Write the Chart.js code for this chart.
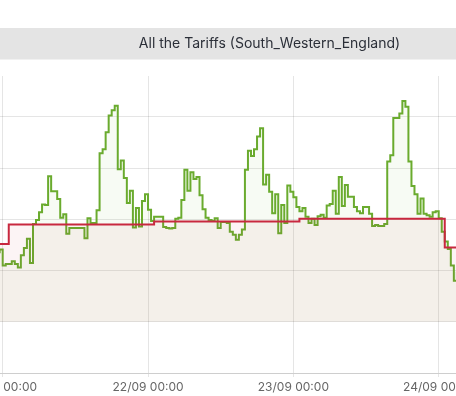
<!DOCTYPE html>
<html>
<head>
<meta charset="utf-8">
<script src="https://cdn.jsdelivr.net/npm/chart.js@4.4.1/dist/chart.umd.min.js"></script>
<style>
  html, body { margin: 0; padding: 0; background: #fff; overflow: hidden; }
  #wrap { position: relative; width: 456px; height: 396px; overflow: hidden; }
  #grafico { position: absolute; left: -60px; top: 0; }
</style>
</head>
<body>
<div id="wrap"><canvas id="grafico" width="659" height="396"></canvas></div>
<script>
// hours are counted from 21/09 00:00; agile prices are half-hourly slots
const firstSlotHour = -2;
const agilePrices = [
  13.0, 14.5, 13.6, 14.1,
  11.0, 11.3, 11.3, 11.8, 11.3, 10.6, 13.0, 14.4, 16.2, 11.5,
  19.1, 19.9, 21.4, 22.9, 22.8, 28.4, 25.5, 25.5, 24.0, 20.3,
  21.0, 17.2, 18.3, 18.3, 18.3, 18.3, 18.3, 16.3, 20.2, 19.3,
  19.3, 21.8, 32.9, 33.7, 37.0, 40.3, 41.3, 42.2, 29.8, 31.5,
  28.1, 23.2, 25.6, 18.4, 22.2, 18.6, 23.6, 24.9, 21.9, 19.7,
  20.5, 20.5, 20.5, 18.5, 18.3, 18.2, 18.3, 20.1, 20.3, 23.8,
  29.7, 25.6, 29.2, 27.9, 28.3, 24.7, 22.0, 20.3, 19.9, 19.7,
  20.2, 18.3, 19.5, 19.5, 19.3, 17.6, 17.0, 16.0, 17.0, 18.0,
  29.7, 33.4, 32.4, 33.7, 36.2, 37.8, 26.8, 28.7, 25.4, 21.2,
  24.9, 17.3, 22.8, 19.3, 26.6, 25.4, 24.3, 22.4, 21.6, 22.2,
  20.5, 19.3, 20.1, 18.9, 20.6, 20.9, 20.3, 22.7, 23.0, 25.6,
  21.1, 28.3, 22.6, 26.7, 24.4, 24.4, 22.4, 21.6, 21.2, 22.4,
  22.4, 21.1, 18.7, 18.9, 18.7, 18.7, 19.1, 31.3, 32.5, 39.8,
  39.8, 40.7, 43.1, 42.0, 31.3, 26.5, 24.9, 21.1, 24.1, 21.1,
  20.8, 20.5, 21.4, 21.6, 20.2, 17.6, 15.7, 14.2, 11.0, 8.0,
  9.6, 10.5, 9.0
];

const fixedHours = [-3, 1, 25, 49, 73, 100];
const fixedPrices = [15.2, 19.0, 19.6, 20.1, 14.5, 14.5];

const tickHours = [0, 24, 48, 72];
const tickLabels = ['21/09 00:00', '22/09 00:00', '23/09 00:00', '24/09 00:00'];
const yTicks = [-10, 0, 10, 20, 30, 40];

const agileData = agilePrices.map((p, i) => ({ x: firstSlotHour + i * 0.5, y: p }));
const fixedData = fixedPrices.map((p, i) => ({ x: fixedHours[i], y: p }));

// grey band behind the title
const tituloFundo = {
  id: 'tituloFundo',
  beforeDraw(chart) {
    const t = chart.titleBlock;
    const ctx = chart.ctx;
    ctx.save();
    ctx.fillStyle = '#e4e4e4';
    ctx.fillRect(0, t.top, chart.width, 31.5);
    ctx.restore();
  }
};

Chart.defaults.font.family = 'Inter';

const ctx = document.getElementById('grafico').getContext('2d');
const chart = new Chart(ctx, {
    type: 'line',
    data: {
        datasets: [{
            label: 'Fixed',
            data: fixedData,
            stepped: true,
            borderColor: '#c8283f',
            backgroundColor: 'rgba(200, 40, 63, 0.05)',
            borderWidth: 2,
            pointRadius: 0,
            fill: 'origin'
        }, {
            label: 'Agile',
            data: agileData,
            stepped: true,
            borderColor: '#6aab2e',
            backgroundColor: 'rgba(106, 171, 46, 0.05)',
            borderWidth: 2,
            pointRadius: 0,
            fill: 'origin'
        }]
    },
    options: {
        responsive: false,
        animation: false,
        devicePixelRatio: 1,
        layout: { padding: { top: 28, left: 0, right: 0, bottom: 0 } },
        scales: {
            x: {
                type: 'linear',
                min: -2.097,
                max: 98.47,
                afterBuildTicks: function (scale) {
                    scale.ticks = tickHours.map(v => ({ value: v }));
                },
                afterFit: function (scale) {
                    scale.height = 23;
                    scale.paddingLeft = 0;
                    scale.paddingRight = 0;
                },
                grid: { tickLength: 4 },
                ticks: {
                    maxRotation: 0,
                    autoSkip: false,
                    color: '#666',
                    font: { size: 12 },
                    callback: function (value) {
                        return tickLabels[tickHours.indexOf(value)];
                    }
                }
            },
            y: {
                min: -10,
                max: 48,
                afterBuildTicks: function (scale) {
                    scale.ticks = yTicks.map(v => ({ value: v }));
                },
                afterFit: function (scale) {
                    scale.width = 50;
                },
                ticks: { color: '#666', font: { size: 12 } }
            }
        },
        plugins: {
            legend: { display: false },
            tooltip: { enabled: false },
            title: {
                display: true,
                text: 'All the Tariffs (South_Western_England)',
                color: '#2b2f38',
                font: { size: 14, weight: 'normal' },
                padding: { top: 7.5, bottom: 23.7 }
            }
        }
    },
    plugins: [tituloFundo]
});
</script>
</body>
</html>
